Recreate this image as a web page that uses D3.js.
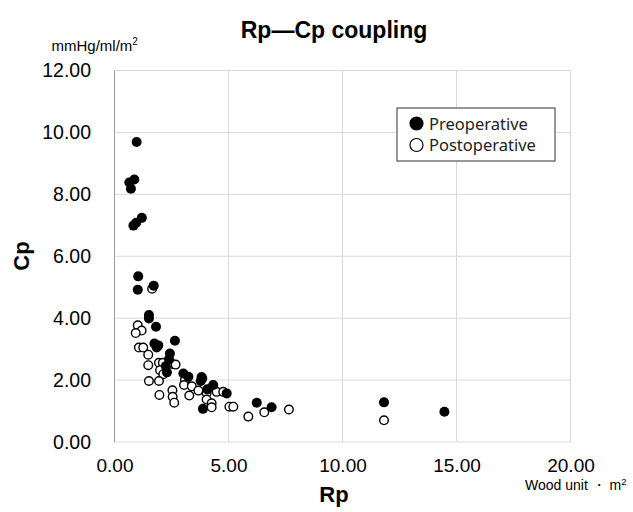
<!DOCTYPE html>
<html><head><meta charset="utf-8">
<script src="https://cdn.jsdelivr.net/npm/d3@7"></script>
<style>body{margin:0;background:#fff}</style>
</head><body>
<svg id="c" width="633" height="512"></svg>
<script>
const xTicks = [0, 5, 10, 15, 20];
const yTicks = [0, 2, 4, 6, 8, 10, 12];
const preRp = [0.97,0.87,0.65,0.72,1.2,0.95,0.83,1.04,1.02,1.72,1.51,1.51,1.82,1.75,1.92,1.85,2.65,2.43,2.39,2.25,2.3,3.02,3.24,3.82,3.78,3.85,4.33,4.07,4.92,3.88,6.24,6.89,11.82,14.47];
const preCp = [9.69,8.48,8.38,8.18,7.24,7.08,6.99,5.35,4.92,5.05,4.1,3.99,3.72,3.18,3.12,3.05,3.27,2.86,2.67,2.45,2.25,2.21,2.11,2.1,1.97,2.05,1.84,1.7,1.57,1.07,1.27,1.12,1.28,0.98];
const postRp = [1.65,1.02,1.19,0.93,1.07,1.26,1.48,1.48,1.95,2.12,2.0,2.14,2.54,2.68,1.51,1.95,1.97,2.54,2.55,2.62,3.09,3.05,3.39,3.68,3.28,4.04,4.48,4.77,4.04,4.26,4.26,5.04,5.21,5.87,6.57,7.65,11.82];
const postCp = [4.95,3.77,3.6,3.52,3.05,3.05,2.82,2.48,2.56,2.56,2.32,2.19,2.52,2.5,1.97,1.97,1.52,1.67,1.46,1.27,2.0,1.84,1.8,1.66,1.5,1.58,1.62,1.62,1.37,1.25,1.12,1.14,1.14,0.82,0.96,1.05,0.7];
const seriesNames = ["Preoperative", "Postoperative"];

const svg = d3.select("#c");
const L = 114.5, R = 570.5, T = 70.5, B = 442;
const x = d3.scaleLinear().domain([0, 20]).range([L, R]);
const y = d3.scaleLinear().domain([0, 12]).range([B, T]);
const font = "'Liberation Sans', Arial, sans-serif";

// gridlines
svg.append("g").selectAll("line.h").data(yTicks).join("line")
  .attr("x1", L).attr("x2", R).attr("y1", d => y(d)).attr("y2", d => y(d))
  .attr("stroke", "#d9d9d9").attr("stroke-width", 1);
svg.append("g").selectAll("line.v").data(xTicks.slice(1)).join("line")
  .attr("x1", d => x(d)).attr("x2", d => x(d)).attr("y1", T).attr("y2", B)
  .attr("stroke", "#d9d9d9").attr("stroke-width", 1);
// left axis line
svg.append("line").attr("x1", L).attr("x2", L).attr("y1", T).attr("y2", B)
  .attr("stroke", "#9a9a9a").attr("stroke-width", 1);

// y tick labels
const yAxis = d3.axisLeft(y).tickValues(yTicks).tickFormat(d3.format(".2f")).tickSize(0).tickPadding(23.5);
const gy = svg.append("g").attr("transform", `translate(${L},0)`).call(yAxis);
gy.select(".domain").remove();
gy.selectAll("text").attr("font-family", font).attr("font-size", 19.5).attr("fill", "#000");

const xAxis = d3.axisBottom(x).tickValues(xTicks).tickFormat(d3.format(".2f")).tickSize(0).tickPadding(17);
const gx = svg.append("g").attr("transform", `translate(0,${B})`).call(xAxis);
gx.select(".domain").remove();
gx.selectAll("text").attr("font-family", font).attr("font-size", 19).attr("fill", "#000");

// points
const post = postRp.map((v, i) => [v, postCp[i]]);
const pre = preRp.map((v, i) => [v, preCp[i]]);
svg.append("g").selectAll("circle").data(post).join("circle")
  .attr("cx", d => x(d[0])).attr("cy", d => y(d[1])).attr("r", 4.3)
  .attr("fill", "#fff").attr("stroke", "#000").attr("stroke-width", 1.4);
svg.append("g").selectAll("circle").data(pre).join("circle")
  .attr("cx", d => x(d[0])).attr("cy", d => y(d[1])).attr("r", 5)
  .attr("fill", "#000");

// title & labels
svg.append("text").attr("x", 334).attr("y", 38).attr("text-anchor", "middle")
  .attr("font-family", font).attr("font-weight", "bold").attr("font-size", 23).text("Rp\u2014Cp coupling");
const u = svg.append("text").attr("x", 51.5).attr("y", 50.5).attr("font-family", font).attr("font-size", 15);
u.append("tspan").text("mmHg/ml/m");
u.append("tspan").attr("font-size", 10).attr("dy", -6).text("2");
svg.append("text").attr("x", 334).attr("y", 502).attr("text-anchor", "middle")
  .attr("font-family", font).attr("font-weight", "bold").attr("font-size", 22).text("Rp");
svg.append("text").attr("transform", "translate(29,256) rotate(-90)").attr("text-anchor", "middle")
  .attr("font-family", font).attr("font-weight", "bold").attr("font-size", 22).text("Cp");
const w = svg.append("text").attr("x", 525).attr("y", 490).attr("font-family", font).attr("font-size", 14);
w.append("tspan").text("Wood unit \u30fb m");
w.append("tspan").attr("font-size", 9.5).attr("dy", -5.5).text("2");

// legend
const lg = svg.append("g");
lg.append("rect").attr("x", 397).attr("y", 108).attr("width", 158).attr("height", 53)
  .attr("fill", "#fff").attr("stroke", "#333").attr("stroke-width", 1);
seriesNames.forEach((n, i) => {
  const cy = 123.5 + i * 21.5;
  lg.append("circle").attr("cx", 416.5).attr("cy", cy).attr("r", 6.5)
    .attr("fill", i === 0 ? "#000" : "#fff").attr("stroke", "#000").attr("stroke-width", 1.2);
  lg.append("text").attr("x", 429).attr("y", cy + 6).attr("font-family", "'Noto Sans', sans-serif")
    .attr("font-size", 16.5).attr("fill", "#222").text(n);
});
</script>
</body></html>
